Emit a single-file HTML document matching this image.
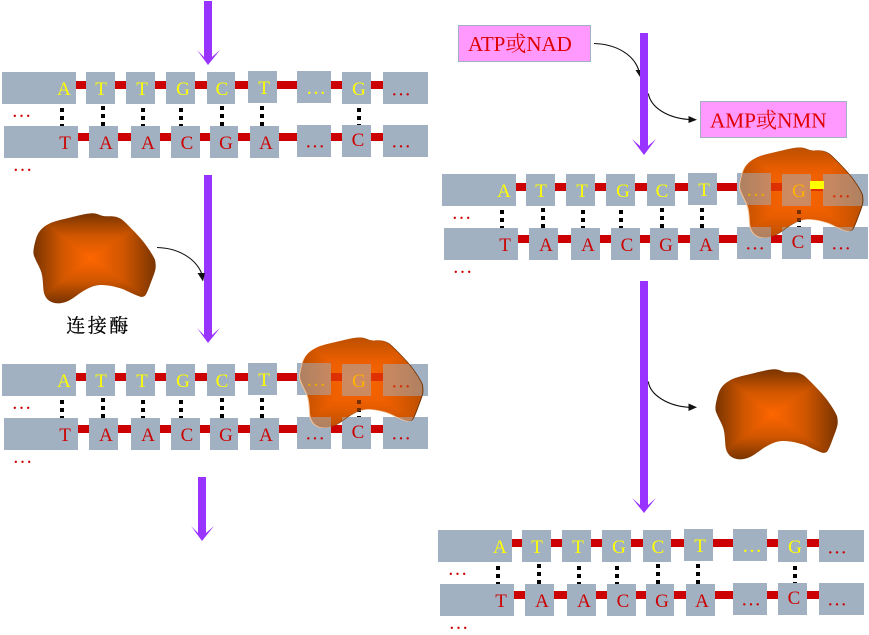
<!DOCTYPE html>
<html lang="zh">
<head>
<meta charset="utf-8">
<title>DNA连接酶</title>
<style>
html,body{margin:0;padding:0;background:#fff;width:869px;height:635px;overflow:hidden}
svg{display:block}
text{font-family:"Liberation Serif","Noto Serif CJK SC",serif}
.s text{font-size:19px;text-anchor:middle}
.s text.e{font-size:20px}
.y{fill:#ffff00}
.r{fill:#cc0000}
.b{fill:#a2b1c1}
.bar{fill:#cc0000}
.dots{stroke:#000;stroke-width:4;stroke-dasharray:4 4;fill:none}
.c{fill:none;stroke:#111;stroke-width:1.1}
polygon.g{shape-rendering:crispEdges}
</style>
</head>
<body>
<svg width="869" height="635" viewBox="0 0 869 635" xmlns="http://www.w3.org/2000/svg">
<defs>
<path id="bp" d="M0,38.3 C.55,34.1 2.2,24.7 5,20 C7.8,15.3 11.4,12.6 16.7,10 C22,7.4 29.8,6 36.7,4.3 C43.6,2.6 52.8,.3 58.3,0 C63.9,-.3 66.1,2.1 70,2.7 C73.9,3.3 78.4,2.5 81.7,3.3 C85,4.1 87.5,5.1 90,7.3 C94,10.9 104.7,21.7 110,28.3 C115.3,34.9 120.7,43.7 121.7,46.7 C122.3,48.7 122.6,52.3 122.3,55 C122,58 118.4,67.3 116.7,71.7 C115,76.1 114,79 112.3,81.7 C111,83.5 109,84 106.7,83.3 C101,81.5 95,78.3 90,76 C84,73.5 73,71.3 66.7,71.7 C61,72 55.5,74.5 50,77.7 C44.5,81 38.5,86.5 33.3,88.3 C30,89.5 26.5,90.3 23.3,90 C19.5,89.7 15.5,88 13.3,85 C11,82 10.3,79 10,75 C9.7,70 9.5,65 8.3,60 C7,55 3.7,50 1.7,45 C.5,42.5 0,40.5 0,38.3 Z"/>
<clipPath id="cb"><use href="#bp"/></clipPath>
<clipPath id="c2"><use href="#bp" transform="translate(300,337.5)"/></clipPath>
<clipPath id="c3"><use href="#bp" transform="translate(740,147.5)"/></clipPath>

<linearGradient id="at" gradientUnits="userSpaceOnUse" x1="0" y1="45" x2="0" y2="0"><stop offset="0" stop-color="#ff6600"/><stop offset=".5" stop-color="#d05600"/><stop offset="1" stop-color="#783400"/></linearGradient>
<linearGradient id="ab" gradientUnits="userSpaceOnUse" x1="0" y1="45" x2="0" y2="90"><stop offset="0" stop-color="#ff6600"/><stop offset=".5" stop-color="#d05600"/><stop offset="1" stop-color="#783400"/></linearGradient>
<linearGradient id="al" gradientUnits="userSpaceOnUse" x1="57" y1="0" x2="0" y2="0"><stop offset="0" stop-color="#ff6600"/><stop offset=".5" stop-color="#d05600"/><stop offset="1" stop-color="#783400"/></linearGradient>
<linearGradient id="ar" gradientUnits="userSpaceOnUse" x1="57" y1="0" x2="123" y2="0"><stop offset="0" stop-color="#ff6600"/><stop offset=".5" stop-color="#d05600"/><stop offset="1" stop-color="#783400"/></linearGradient>

<linearGradient id="bt" gradientUnits="userSpaceOnUse" x1="0" y1="45" x2="0" y2="0"><stop offset="0" stop-color="#ff6600"/><stop offset=".5" stop-color="#ea5e00"/><stop offset="1" stop-color="#bc4f00"/></linearGradient>
<linearGradient id="bb" gradientUnits="userSpaceOnUse" x1="0" y1="45" x2="0" y2="90"><stop offset="0" stop-color="#ff6600"/><stop offset=".5" stop-color="#ea5e00"/><stop offset="1" stop-color="#bc4f00"/></linearGradient>
<linearGradient id="bl" gradientUnits="userSpaceOnUse" x1="57" y1="0" x2="0" y2="0"><stop offset="0" stop-color="#ff6600"/><stop offset=".5" stop-color="#ea5e00"/><stop offset="1" stop-color="#bc4f00"/></linearGradient>
<linearGradient id="br" gradientUnits="userSpaceOnUse" x1="57" y1="0" x2="123" y2="0"><stop offset="0" stop-color="#ff6600"/><stop offset=".5" stop-color="#ea5e00"/><stop offset="1" stop-color="#bc4f00"/></linearGradient>

<g id="blobA">
  <g clip-path="url(#cb)">
    <polygon class="g" points="57,45 -1,-1 124,-1" fill="url(#at)"/>
    <polygon class="g" points="57,45 -1,91 124,91" fill="url(#ab)"/>
    <polygon class="g" points="57,45 -1,-1 -1,91" fill="url(#al)"/>
    <polygon class="g" points="57,45 124,-1 124,91" fill="url(#ar)"/>
  </g>
</g>
<g id="blobB">
  <use href="#bp" transform="translate(1,0)" fill="#6e3000"/>
  <use href="#bp" transform="translate(-1,.5)" fill="#f6c49a"/>
  <g clip-path="url(#cb)">
    <polygon class="g" points="57,45 -1,-1 124,-1" fill="url(#bt)"/>
    <polygon class="g" points="57,45 -1,91 124,91" fill="url(#bb)"/>
    <polygon class="g" points="57,45 -1,-1 -1,91" fill="url(#bl)"/>
    <polygon class="g" points="57,45 124,-1 124,91" fill="url(#br)"/>
  </g>
</g>
</defs>

<!-- Purple arrows -->
<g fill="#9933ff">
  <polygon points="204,1 212,1 212,57 220,50 208,65 197,50 204,57"/>
  <polygon points="204,175 212,175 212,335 220,328 208,343 197,328 204,335"/>
  <polygon points="198,477 206,477 206,533 214,526 202,541 191,526 198,533"/>
  <polygon points="640,33 648,33 648,146 656,139 644,155 632,139 640,146"/>
  <polygon points="640,281 648,281 648,505 656,498 644,513 632,498 640,505"/>
</g>

<!-- Strand 1: left top -->
<g class="s" transform="translate(-436,-458)">
  <rect class="bar" x="512" y="539" width="307" height="8"/>
  <rect class="bar" x="514" y="591" width="305" height="8"/>
  <path class="dots" d="M498 566V584M539 564V584M579 566V584M617 566V584M658 564V584M698 564V584M795 566V584"/>
  <g class="b">
    <rect x="438" y="530" width="74" height="32"/><rect x="522" y="530" width="29" height="32"/><rect x="562" y="530" width="29" height="32"/><rect x="602" y="530" width="29" height="32"/><rect x="643" y="530" width="28" height="32"/><rect x="684" y="529" width="29" height="32"/><rect x="733" y="529" width="34" height="32"/><rect x="778" y="530" width="29" height="32"/><rect x="819" y="530" width="45" height="32"/>
    <rect x="440" y="584" width="74" height="32"/><rect x="525" y="584" width="29" height="32"/><rect x="567" y="584" width="29" height="32"/><rect x="607" y="584" width="29" height="32"/><rect x="646" y="584" width="28" height="32"/><rect x="686" y="584" width="29" height="32"/><rect x="733" y="583" width="34" height="32"/><rect x="778" y="583" width="29" height="32"/><rect x="819" y="583" width="45" height="32"/>
  </g>
  <text class="y" x="500" y="553">A</text><text class="y" x="537" y="553">T</text><text class="y" x="578" y="553">T</text><text class="y" x="619" y="553">G</text><text class="y" x="658" y="553">C</text><text class="y" x="700" y="552">T</text><text class="y e" x="752" y="552">…</text><text class="y" x="795" y="553">G</text><text class="r e" x="837" y="553.5">…</text>
  <text class="r" x="501" y="607">T</text><text class="r" x="542" y="607">A</text><text class="r" x="584" y="607">A</text><text class="r" x="623" y="607">C</text><text class="r" x="662" y="607">G</text><text class="r" x="702" y="607">A</text><text class="r e" x="751" y="605.5">…</text><text class="r" x="794" y="604">C</text><text class="r e" x="837" y="605.5">…</text>
  <text class="r e" x="457.5" y="575">…</text><text class="r e" x="458.5" y="629">…</text>
</g>

<!-- Strand 2: left middle -->
<g class="s" transform="translate(-436,-166)">
  <rect class="bar" x="512" y="539" width="307" height="8"/>
  <rect class="bar" x="514" y="591" width="305" height="8"/>
  <path class="dots" d="M498 566V584M539 564V584M579 566V584M617 566V584M658 564V584M698 564V584M795 566V584"/>
  <g class="b">
    <rect x="438" y="530" width="74" height="32"/><rect x="522" y="530" width="29" height="32"/><rect x="562" y="530" width="29" height="32"/><rect x="602" y="530" width="29" height="32"/><rect x="643" y="530" width="28" height="32"/><rect x="684" y="529" width="29" height="32"/><rect x="733" y="529" width="34" height="32"/><rect x="778" y="530" width="29" height="32"/><rect x="819" y="530" width="45" height="32"/>
    <rect x="440" y="584" width="74" height="32"/><rect x="525" y="584" width="29" height="32"/><rect x="567" y="584" width="29" height="32"/><rect x="607" y="584" width="29" height="32"/><rect x="646" y="584" width="28" height="32"/><rect x="686" y="584" width="29" height="32"/><rect x="733" y="583" width="34" height="32"/><rect x="778" y="583" width="29" height="32"/><rect x="819" y="583" width="45" height="32"/>
  </g>
  <text class="y" x="500" y="553">A</text><text class="y" x="537" y="553">T</text><text class="y" x="578" y="553">T</text><text class="y" x="619" y="553">G</text><text class="y" x="658" y="553">C</text><text class="y" x="700" y="552">T</text>
  <text class="r" x="501" y="607">T</text><text class="r" x="542" y="607">A</text><text class="r" x="584" y="607">A</text><text class="r" x="623" y="607">C</text><text class="r" x="662" y="607">G</text><text class="r" x="702" y="607">A</text><text class="r e" x="751" y="605.5">…</text><text class="r" x="794" y="604">C</text><text class="r e" x="837" y="605.5">…</text>
  <text class="r e" x="457.5" y="575">…</text><text class="r e" x="458.5" y="629">…</text>
</g>
<use href="#blobB" transform="translate(300,337.5)"/>
<g clip-path="url(#c2)"><g opacity="0.5"><g class="s" transform="translate(-436,-166)">
  <rect class="bar" x="767" y="539" width="52" height="8"/>
  <rect class="bar" x="767" y="591" width="52" height="8"/>
  <path class="dots" d="M795 566V584"/>
  <g class="b"><rect x="733" y="529" width="34" height="32"/><rect x="778" y="530" width="29" height="32"/><rect x="819" y="530" width="45" height="32"/><rect x="733" y="583" width="34" height="32"/><rect x="778" y="583" width="29" height="32"/><rect x="819" y="583" width="45" height="32"/></g>
  <text class="y e" x="752" y="552">…</text><text class="y" x="795" y="553">G</text><text class="r e" x="837" y="553.5">…</text>
</g></g></g>

<!-- Strand 3: right middle -->
<g class="s" transform="translate(4,-356)">
  <rect class="bar" x="512" y="539" width="307" height="8"/>
  <rect class="bar" x="514" y="591" width="305" height="8"/>
  <path class="dots" d="M498 566V584M539 564V584M579 566V584M617 566V584M658 564V584M698 564V584M795 566V584"/>
  <g class="b">
    <rect x="438" y="530" width="74" height="32"/><rect x="522" y="530" width="29" height="32"/><rect x="562" y="530" width="29" height="32"/><rect x="602" y="530" width="29" height="32"/><rect x="643" y="530" width="28" height="32"/><rect x="684" y="529" width="29" height="32"/><rect x="733" y="529" width="34" height="32"/><rect x="778" y="530" width="29" height="32"/><rect x="819" y="530" width="45" height="32"/>
    <rect x="440" y="584" width="74" height="32"/><rect x="525" y="584" width="29" height="32"/><rect x="567" y="584" width="29" height="32"/><rect x="607" y="584" width="29" height="32"/><rect x="646" y="584" width="28" height="32"/><rect x="686" y="584" width="29" height="32"/><rect x="733" y="583" width="34" height="32"/><rect x="778" y="583" width="29" height="32"/><rect x="819" y="583" width="45" height="32"/>
  </g>
  <text class="y" x="500" y="553">A</text><text class="y" x="537" y="553">T</text><text class="y" x="578" y="553">T</text><text class="y" x="619" y="553">G</text><text class="y" x="658" y="553">C</text><text class="y" x="700" y="552">T</text>
  <text class="r" x="501" y="607">T</text><text class="r" x="542" y="607">A</text><text class="r" x="584" y="607">A</text><text class="r" x="623" y="607">C</text><text class="r" x="662" y="607">G</text><text class="r" x="702" y="607">A</text><text class="r e" x="751" y="605.5">…</text><text class="r" x="794" y="604">C</text><text class="r e" x="837" y="605.5">…</text>
  <text class="r e" x="457.5" y="575">…</text><text class="r e" x="458.5" y="629">…</text>
</g>
<use href="#blobB" transform="translate(740,147.5)"/>
<g clip-path="url(#c3)"><g opacity="0.5"><g class="s" transform="translate(4,-356)">
  <rect class="bar" x="767" y="539" width="52" height="8"/>
  <rect class="bar" x="767" y="591" width="52" height="8"/>
  <path class="dots" d="M795 566V584"/>
  <g class="b"><rect x="733" y="529" width="34" height="32"/><rect x="778" y="530" width="29" height="32"/><rect x="819" y="530" width="45" height="32"/><rect x="733" y="583" width="34" height="32"/><rect x="778" y="583" width="29" height="32"/><rect x="819" y="583" width="45" height="32"/></g>
  <text class="y e" x="752" y="552">…</text><text class="y" x="795" y="553">G</text><text class="r e" x="837" y="553.5">…</text>
</g></g></g>
<rect x="810" y="181" width="14" height="8" fill="#ffff00"/>

<!-- Strand 4: right bottom -->
<g class="s">
  <rect class="bar" x="512" y="539" width="307" height="8"/>
  <rect class="bar" x="514" y="591" width="305" height="8"/>
  <path class="dots" d="M498 566V584M539 564V584M579 566V584M617 566V584M658 564V584M698 564V584M795 566V584"/>
  <g class="b">
    <rect x="438" y="530" width="74" height="32"/><rect x="522" y="530" width="29" height="32"/><rect x="562" y="530" width="29" height="32"/><rect x="602" y="530" width="29" height="32"/><rect x="643" y="530" width="28" height="32"/><rect x="684" y="529" width="29" height="32"/><rect x="733" y="529" width="34" height="32"/><rect x="778" y="530" width="29" height="32"/><rect x="819" y="530" width="45" height="32"/>
    <rect x="440" y="584" width="74" height="32"/><rect x="525" y="584" width="29" height="32"/><rect x="567" y="584" width="29" height="32"/><rect x="607" y="584" width="29" height="32"/><rect x="646" y="584" width="28" height="32"/><rect x="686" y="584" width="29" height="32"/><rect x="733" y="583" width="34" height="32"/><rect x="778" y="583" width="29" height="32"/><rect x="819" y="583" width="45" height="32"/>
  </g>
  <text class="y" x="500" y="553">A</text><text class="y" x="537" y="553">T</text><text class="y" x="578" y="553">T</text><text class="y" x="619" y="553">G</text><text class="y" x="658" y="553">C</text><text class="y" x="700" y="552">T</text><text class="y e" x="752" y="552">…</text><text class="y" x="795" y="553">G</text><text class="r e" x="837" y="553.5">…</text>
  <text class="r" x="501" y="607">T</text><text class="r" x="542" y="607">A</text><text class="r" x="584" y="607">A</text><text class="r" x="623" y="607">C</text><text class="r" x="662" y="607">G</text><text class="r" x="702" y="607">A</text><text class="r e" x="751" y="605.5">…</text><text class="r" x="794" y="604">C</text><text class="r e" x="837" y="605.5">…</text>
  <text class="r e" x="457.5" y="575">…</text><text class="r e" x="458.5" y="629">…</text>
</g>

<!-- Free enzymes -->
<use href="#blobA" transform="translate(33.3,213.3)"/>
<use href="#blobA" transform="translate(715.3,369.3)"/>
<text x="98.5" y="332" text-anchor="middle" font-size="19" letter-spacing="2.5" fill="#000" stroke="#000" stroke-width="0.25" style="font-family:'Noto Serif CJK SC',serif">连接酶</text>

<!-- Pink labels -->
<rect x="458.5" y="25.5" width="132" height="36" fill="#ff99ff" stroke="#a2b1c1"/>
<text x="468" y="51" font-size="21" fill="#e00000" style="font-family:'Liberation Serif','Noto Serif CJK SC',serif">ATP或NAD</text>
<rect x="700.5" y="101.5" width="146" height="36" fill="#ff99ff" stroke="#a2b1c1"/>
<text x="710" y="127.5" font-size="21.2" fill="#e00000" style="font-family:'Liberation Serif','Noto Serif CJK SC',serif">AMP或NMN</text>

<!-- Curved arrows -->
<path class="c" d="M157,247.5 C178,248 195,258 201.5,273"/>
<polygon points="197.5,273 205,273 203,281.5" fill="#111"/>
<path class="c" d="M594,43.5 C615,44 634,54 639,71"/>
<polygon points="635.5,70 640,70 640,77" fill="#111"/>
<path class="c" d="M648.3,93.5 C651,108 668,118 689,119.5"/>
<polygon points="688.5,116 697,119.7 688.5,123" fill="#111"/>
<path class="c" d="M648.3,381.5 C650,395 668,406 689,407.3"/>
<polygon points="688.5,403.5 697,407.3 688.5,411" fill="#111"/>
</svg>
</body>
</html>
